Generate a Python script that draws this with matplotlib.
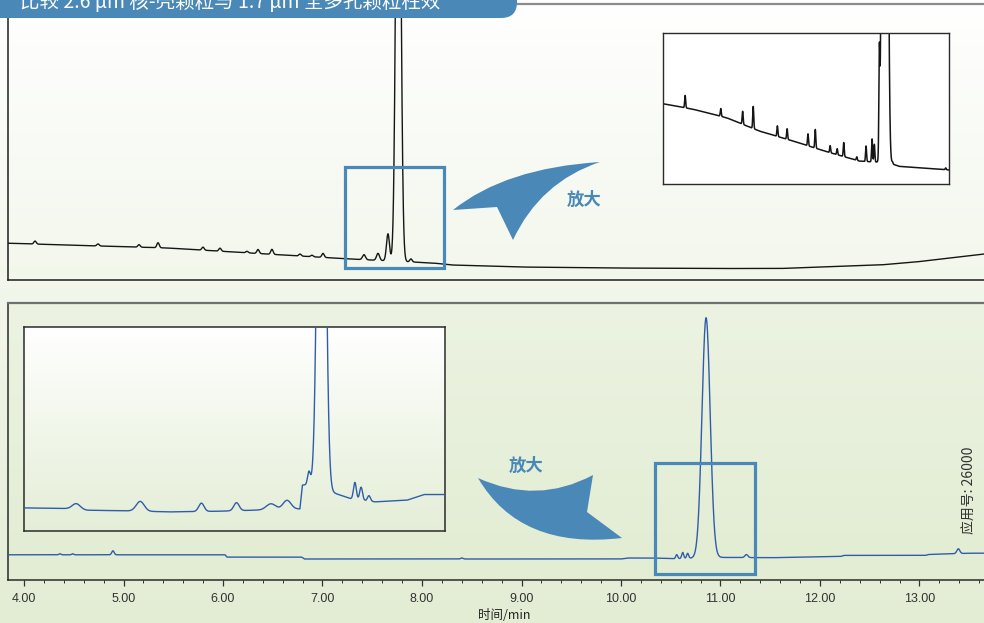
import numpy as np
import matplotlib
matplotlib.use("Agg")
import matplotlib.pyplot as plt
from matplotlib.path import Path
from matplotlib.patches import PathPatch, FancyBboxPatch, Rectangle
from matplotlib.colors import LinearSegmentedColormap
from matplotlib.transforms import IdentityTransform
from matplotlib.ticker import MultipleLocator

plt.rcParams['font.family'] = ['Noto Sans CJK SC', 'DejaVu Sans']

# ------------------------------------------------------------------ data
title = "比较 2.6 µm 核-壳颗粒与 1.7 µm 全多孔颗粒柱效"
x_label = "时间/min"
app_note = "应用号: 26000"
zoom_label = "放大"
tick_values = [4, 5, 6, 7, 8, 9, 10, 11, 12, 13]
tick_labels = ["4.00", "5.00", "6.00", "7.00", "8.00", "9.00", "10.00", "11.00", "12.00", "13.00"]

# Top chromatogram (2.6 µm core-shell) – baseline knots (min, signal)
top_base_t = [3.76, 4.76, 5.44, 6.77, 7.28, 8.11, 8.30, 8.98, 9.89, 10.89, 11.60, 12.02, 12.60, 12.96, 13.65, 13.85]
top_base_v = [37, 34, 32, 24, 21, 17, 15, 13, 12, 11.5, 11.5, 13, 15, 18, 26, 28]
# peaks: retention time, height above baseline, sigma (min)
top_peak_t = [4.111, 4.744, 5.156, 5.347, 5.799, 5.970, 6.241, 6.352, 6.492, 6.774, 6.894, 7.005, 7.417, 7.558, 7.658, 7.762, 7.889]
top_peak_h = [3, 2, 2.5, 5, 3, 3, 1.5, 4, 5, 2, 1.5, 4, 5, 7, 27, 600, 3]
top_peak_s = [0.012, 0.012, 0.012, 0.012, 0.012, 0.012, 0.012, 0.012, 0.012, 0.012, 0.012, 0.012, 0.015, 0.015, 0.015, 0.023, 0.012]
top_zoom_box = [7.23, 8.22, 12, 113]          # t0, t1, y0, y1

# Top inset (zoomed)
ti_base_t = [6.200, 6.413, 6.645, 6.877, 7.109, 7.342, 7.574, 7.782, 7.852, 8.037, 8.200]
ti_base_v = [76, 70.7, 62.7, 50, 40.7, 30.7, 21.7, 20, 16.7, 15, 13.3]
ti_peak_t = [6.355, 6.604, 6.757, 6.831, 7.000, 7.068, 7.214, 7.265, 7.369, 7.418, 7.464, 7.555, 7.620, 7.662, 7.678, 7.713, 7.728, 7.752, 7.805, 8.177]
ti_peak_h = [11.7, 7.3, 12.3, 21, 10, 10, 11.3, 17.7, 6.7, 5.7, 13.3, 3.3, 14.7, 21.7, 16.7, 92, 70, 1500, 1.7, 1.7]
ti_peak_s = [0.0035, 0.0035, 0.0035, 0.0035, 0.0035, 0.0035, 0.0035, 0.0035, 0.0035, 0.0035, 0.0035, 0.0035, 0.0035, 0.0035, 0.0035, 0.0035, 0.0035, 0.0133, 0.0035, 0.0035]
ti_xlim = [6.2, 8.2]
ti_ylim = [0, 143]

# Bottom chromatogram (1.7 µm fully porous)
bot_base_t = [3.76, 6.02, 6.04, 6.79, 6.82, 10.00, 10.07, 10.32, 10.54, 10.95, 11.52, 12.21, 12.24, 13.06, 13.09, 13.51, 13.85]
bot_base_v = [25.2, 25.2, 22.9, 22.9, 21.0, 21.0, 22.0, 22.0, 21.3, 22.6, 22.3, 23.6, 24.6, 24.6, 25.5, 26.8, 26.8]
bot_peak_t = [4.36, 4.49, 4.894, 8.40, 10.56, 10.62, 10.67, 10.855, 11.26, 13.39]
bot_peak_h = [1, 1, 4, 1, 4, 6, 5, 240, 3, 4.8]
bot_peak_s = [0.01, 0.01, 0.012, 0.012, 0.01, 0.01, 0.01, 0.041, 0.015, 0.015]
bot_zoom_box = [10.34, 11.35, 6, 117]

# Bottom inset (zoomed)
bi_base_t = [9.795, 9.947, 10.019, 10.173, 10.316, 10.494, 10.613, 10.708, 10.778, 10.787, 10.818, 10.905, 10.958, 11.047, 11.160, 11.220, 11.295]
bi_base_v = [23.0, 22.3, 20.7, 20.0, 19.0, 19.7, 20.7, 21.3, 22.0, 45.7, 46.3, 37.3, 32.3, 29.0, 30.7, 36.3, 36.3]
bi_peak_t = [9.981, 10.209, 10.427, 10.552, 10.675, 10.732, 10.810, 10.855, 10.974, 10.996, 11.024]
bi_peak_h = [5.7, 9.7, 8.3, 8, 6, 9, 12.7, 667, 16.7, 12.7, 5.3]
bi_peak_s = [0.0143, 0.0143, 0.0095, 0.0095, 0.0167, 0.0143, 0.0048, 0.01225, 0.005, 0.005, 0.005]
bi_xlim = [9.795, 11.295]
bi_ylim = [0, 203]

# ------------------------------------------------------------------ helpers
W, H = 984, 623
BLUE = "#4a88b7"
TRACE_BLUE = "#2f5dab"


def trace(tgrid, bt, bv, pt, ph, ps):
    y = np.interp(tgrid, bt, bv)
    for c, h, s in zip(pt, ph, ps):
        y = y + h * np.exp(-0.5 * ((tgrid - c) / s) ** 2)
    return y


def gradient(ax, c_top, c_bot, z=0):
    cmap = LinearSegmentedColormap.from_list("g", [c_bot, c_top])
    arr = np.linspace(0, 1, 256).reshape(-1, 1)
    ax.imshow(arr, cmap=cmap, aspect="auto", extent=[0, 1, 0, 1],
              transform=ax.transAxes, origin="lower", zorder=z,
              interpolation="bilinear")


def fr(x0, y0, x1, y1):
    """pixel box (top-left origin) -> figure fraction rect"""
    return [x0 / W, 1 - y1 / H, (x1 - x0) / W, (y1 - y0) / H]


fig = plt.figure(figsize=(W / 100, H / 100), dpi=100)

# figure background gradient
bg = fig.add_axes([0, 0, 1, 1], zorder=-10)
gradient(bg, "#ffffff", "#e3edd4")
bg.set_axis_off()

# time axis mapping: 4.00 at x=24 px, 99.5 px/min
px_per_min = 99.5
x_left_px, x_right_px = 8, 1000
xlim = [4 + (x_left_px - 24) / px_per_min, 4 + (x_right_px - 24) / px_per_min]

# ------------------------------------------------------------------ top panel
ax1 = fig.add_axes(fr(x_left_px, 4, x_right_px, 280), facecolor="none")
t = np.linspace(xlim[0], xlim[1], 6000)
ax1.plot(t, trace(t, top_base_t, top_base_v, top_peak_t, top_peak_h, top_peak_s),
         color="#151515", lw=1.0, zorder=3)
ax1.set_xlim(xlim)
ax1.set_ylim(0, 276)
ax1.set_xticks([])
ax1.set_yticks([])
for s in ["left", "bottom"]:
    ax1.spines[s].set_color("#1e1e1e")
    ax1.spines[s].set_linewidth(1.1)
ax1.spines["top"].set_color("#8c8c8c")
ax1.spines["top"].set_linewidth(1.6)
ax1.spines["right"].set_visible(False)
b = top_zoom_box
ax1.add_patch(Rectangle((b[0], b[2]), b[1] - b[0], b[3] - b[2], fill=False,
                        ec=BLUE, lw=2.3, zorder=4))

# top inset
ai1 = fig.add_axes(fr(663, 33, 949, 184))
ai1.set_facecolor("#ffffff")
ti = np.linspace(ti_xlim[0], ti_xlim[1], 4000)
ai1.plot(ti, trace(ti, ti_base_t, ti_base_v, ti_peak_t, ti_peak_h, ti_peak_s),
         color="#151515", lw=1.1)
ai1.set_xlim(ti_xlim)
ai1.set_ylim(ti_ylim)
ai1.set_xticks([])
ai1.set_yticks([])
for s in ai1.spines.values():
    s.set_color("#2a2a2a")
    s.set_linewidth(1.0)

# ------------------------------------------------------------------ bottom panel
ax2 = fig.add_axes(fr(x_left_px, 303, x_right_px, 580), facecolor="none")
gradient(ax2, "#ecf3e2", "#e2edd3", z=0)
ax2.plot(t, trace(t, bot_base_t, bot_base_v, bot_peak_t, bot_peak_h, bot_peak_s),
         color=TRACE_BLUE, lw=1.0, zorder=3)
ax2.set_xlim(xlim)
ax2.set_ylim(0, 277)
ax2.set_yticks([])
ax2.set_xticks(tick_values)
ax2.set_xticklabels(tick_labels, family=["Liberation Sans", "DejaVu Sans"],
                    fontsize=9, color="#333333")
ax2.xaxis.set_minor_locator(MultipleLocator(0.2))
ax2.tick_params(axis="x", which="major", direction="out", length=4, width=0.9,
                color="#333333", pad=5)
ax2.tick_params(axis="x", which="minor", direction="out", length=2.5, width=0.7,
                color="#333333")
ax2.set_xlabel(x_label, fontsize=9, color="#222222", labelpad=3)
for s in ["left", "bottom"]:
    ax2.spines[s].set_color("#2a2a2a")
    ax2.spines[s].set_linewidth(1.1)
ax2.spines["top"].set_color("#707070")
ax2.spines["top"].set_linewidth(1.6)
ax2.spines["right"].set_visible(False)
b = bot_zoom_box
ax2.add_patch(Rectangle((b[0], b[2]), b[1] - b[0], b[3] - b[2], fill=False,
                        ec=BLUE, lw=2.3, zorder=4))

# bottom inset
ai2 = fig.add_axes(fr(24, 327, 445, 531))
ai2.set_facecolor("none")
gradient(ai2, "#ffffff", "#e4eed7", z=0)
bi = np.linspace(bi_xlim[0], bi_xlim[1], 4000)
ai2.plot(bi, trace(bi, bi_base_t, bi_base_v, bi_peak_t, bi_peak_h, bi_peak_s),
         color=TRACE_BLUE, lw=1.0, zorder=3)
ai2.set_xlim(bi_xlim)
ai2.set_ylim(bi_ylim)
ai2.set_xticks([])
ai2.set_yticks([])
for s in ai2.spines.values():
    s.set_color("#2a2a2a")
    s.set_linewidth(1.1)

# ------------------------------------------------------------------ decorations
ident = IdentityTransform()


def P(x, y):
    return (x, H - y)


top_arrow = Path([P(600, 162), P(505, 168), P(453, 210), P(497, 207), P(513, 240),
                  P(540, 182), P(600, 162), P(600, 162)],
                 [Path.MOVETO, Path.CURVE3, Path.CURVE3, Path.LINETO, Path.LINETO,
                  Path.CURVE3, Path.CURVE3, Path.CLOSEPOLY])
fig.add_artist(PathPatch(top_arrow, fc=BLUE, ec="none", transform=ident, zorder=20))

bot_arrow = Path([P(478, 478), P(537, 505), P(593, 475), P(587, 512), P(622, 538),
                  P(520, 550), P(478, 478), P(478, 478)],
                 [Path.MOVETO, Path.CURVE3, Path.CURVE3, Path.LINETO, Path.LINETO,
                  Path.CURVE3, Path.CURVE3, Path.CLOSEPOLY])
fig.add_artist(PathPatch(bot_arrow, fc=BLUE, ec="none", transform=ident, zorder=20))

fig.text(584 / W, 1 - 200 / H, zoom_label, color=BLUE, fontsize=12.5,
         fontweight="bold", ha="center", va="center")
fig.text(526 / W, 1 - 466 / H, zoom_label, color=BLUE, fontsize=12.5,
         fontweight="bold", ha="center", va="center")

# title banner
fig.add_artist(FancyBboxPatch((-40, H - 18), 557, 80,
                              boxstyle="round,pad=0,rounding_size=16",
                              fc=BLUE, ec="none", transform=ident, zorder=30))
fig.text(20 / W, 1 - 8 / H, title, color="white", fontsize=14,
         ha="left", va="baseline", zorder=31)

# application number
fig.text(970 / W, 1 - 490 / H, app_note, rotation=90, fontsize=10,
         color="#333333", ha="center", va="center")

fig.savefig("out.png", dpi=100)
